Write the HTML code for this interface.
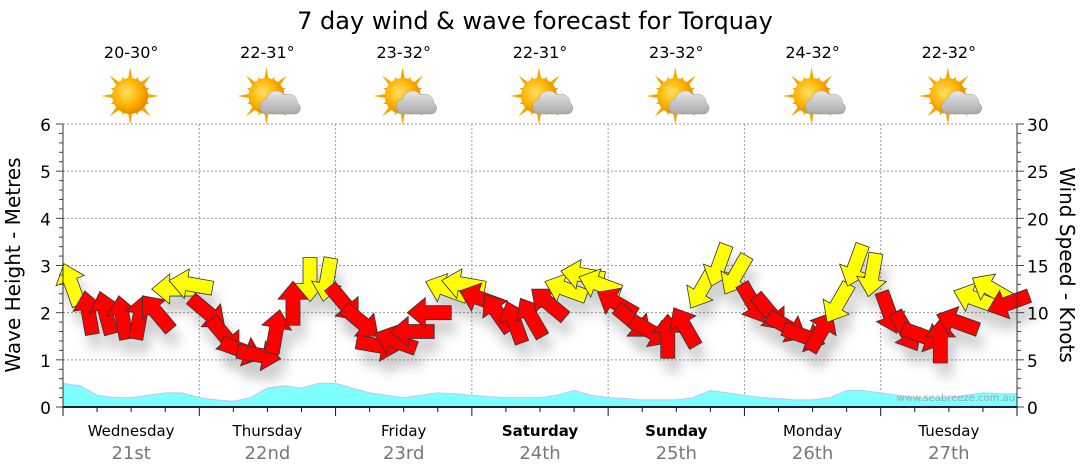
<!DOCTYPE html>
<html><head><meta charset="utf-8"><style>
body{margin:0;background:#fff;font-family:"DejaVu Sans","Liberation Sans",sans-serif;}
svg{display:block}
</style></head><body>
<svg id="c" width="1080" height="475" xmlns="http://www.w3.org/2000/svg">
<defs>
<filter id="sh" x="-50%" y="-50%" width="200%" height="200%"><feGaussianBlur stdDeviation="6"/></filter>
<radialGradient id="sun" cx="40%" cy="40%" r="60%"><stop offset="0" stop-color="#ffe066"/><stop offset="0.6" stop-color="#ffb400"/><stop offset="1" stop-color="#e88a00"/></radialGradient>
<linearGradient id="cloud" x1="0" y1="0" x2="0" y2="1"><stop offset="0" stop-color="#e8e8e8"/><stop offset="1" stop-color="#a8a8a8"/></linearGradient>
</defs>
<text x="535" y="29" font-size="24" text-anchor="middle" fill="#000">7 day wind &amp; wave forecast for Torquay</text>
<g id="grid"></g>
<g id="waves"></g>
<g id="shadows" opacity="0.3"></g>
<g id="arrows"></g>
<g id="axes"></g>
<g id="icons"></g>
<text transform="translate(20,265) rotate(-90)" font-size="20" text-anchor="middle">Wave Height - Metres</text>
<text transform="translate(1060,265) rotate(90)" font-size="20" text-anchor="middle">Wind Speed - Knots</text>
<text x="1015" y="401" font-size="10" text-anchor="end" fill="#9aa">www.seabreeze.com.au</text>
</svg>
<script>
const days=["Wednesday","Thursday","Friday","Saturday","Sunday","Monday","Tuesday"];
const dates=["21st","22nd","23rd","24th","25th","26th","27th"];
const boldDays=[false,false,false,true,true,false,false];
const temps=["20-30°","22-31°","23-32°","22-31°","23-32°","24-32°","22-32°"];
const cloudy=[false,true,true,true,true,true,true];
const waveTicks=[0,1,2,3,4,5,6];
const windTicks=[0,5,10,15,20,25,30];
const waveHeight=[0.5,0.45,0.25,0.2,0.2,0.25,0.3,0.3,0.2,0.15,0.12,0.2,0.4,0.45,0.4,0.5,0.5,0.4,0.3,0.25,0.2,0.25,0.3,0.28,0.25,0.22,0.2,0.2,0.2,0.25,0.35,0.25,0.2,0.18,0.15,0.15,0.15,0.2,0.35,0.3,0.25,0.2,0.18,0.15,0.15,0.2,0.35,0.35,0.3,0.25,0.2,0.2,0.2,0.25,0.3,0.28,0.28];
const windSpeed=[13,10,10,9.5,9.5,10,12.5,13, 10,7.5,6,5.5,8,11,13.5,13.5, 11,9,6.5,7,8,10,12.5,13, 11.5,10,9,9.5,11,12.5,14,13, 11,9,8,7.5,8.5,12.5,15,14, 11,10,8.5,7.5,8,11,15,14, 10,8,7.5,7,9,11.5,12.5,11];
const windDir=[250,260,255,260,280,230,180,190, 40,50,20,10,280,270,90,100, 50,40,10,200,180,180,200,190, 200,235,250,240,220,200,190,200, 210,40,30,270,240,120,110,120, 60,50,30,20,300,120,110,100, 70,60,20,270,200,200,210,160];
const windColor=["y","r","r","r","r","r","y","y", "r","r","r","r","r","r","y","y", "r","r","r","r","r","r","y","y", "r","r","r","r","r","y","y","y", "r","r","r","r","r","y","y","y", "r","r","r","r","r","y","y","y", "r","r","r","r","r","y","y","r"];

const NS="http://www.w3.org/2000/svg";
const X0=63,X1=1017,Y0=407,Y1=124;
const xH=h=>X0+(X1-X0)*h/168;
const yW=v=>Y0-(Y0-Y1)*v/6;
const yK=k=>Y0-(Y0-Y1)*k/30;
function mk(t,a,p){const e=document.createElementNS(NS,t);for(const k in a)e.setAttribute(k,a[k]);(p||document.getElementById('c')).appendChild(e);return e;}
const grid=document.getElementById('grid'),axes=document.getElementById('axes');
waveTicks.forEach(v=>{if(v>0){const l=mk('line',{x1:X0,x2:X1,y1:yW(v),y2:yW(v),stroke:'#999','stroke-dasharray':'2,2','stroke-width':1},grid);

}
const t=mk('text',{x:51,y:yW(v)+7,'font-size':17,'text-anchor':'end'},axes);t.textContent=v;

});
windTicks.forEach(k=>{const t=mk('text',{x:1027,y:yK(k)+7,'font-size':17},axes);t.textContent=k;

});
for(let i=0;i<=30;i++){const y=Y0-(Y0-Y1)*i/30;const w=i%5==0?7:4;
mk('line',{x1:X0-w,x2:X0,y1:y,y2:y,stroke:'#444'},axes);mk('line',{x1:X1,x2:X1+w,y1:y,y2:y,stroke:'#444'},axes);}
days.forEach((d,i)=>{const xs=xH(i*24),xm=xH(i*24+12);
if(i>0){const l=mk('line',{x1:xs,x2:xs,y1:Y1,y2:Y0,stroke:'#999','stroke-dasharray':'2,2'},grid);

}
const t=mk('text',{x:xm,y:436,'font-size':15,'text-anchor':'middle','font-weight':boldDays[i]?'bold':'normal'});t.textContent=d;


const t2=mk('text',{x:xm,y:459,'font-size':18,'text-anchor':'middle',fill:'#777'});t2.textContent=dates[i];


const t3=mk('text',{x:xm,y:58,'font-size':16,'text-anchor':'middle'});t3.textContent=temps[i];


const g=mk('g',{transform:`translate(${xm-1},96)`},document.getElementById('icons'));


for(let r=0;r<16;r++){const a=r*Math.PI/8,L=r%2?21:29;mk('polygon',{points:`${Math.cos(a)*L},${Math.sin(a)*L} ${Math.cos(a+0.17)*15},${Math.sin(a+0.17)*15} ${Math.cos(a-0.17)*15},${Math.sin(a-0.17)*15}`,fill:'#f2a800'},g);}
mk('circle',{cx:0,cy:0,r:18,fill:'url(#sun)'},g);
if(cloudy[i]){mk('path',{d:'M-2,18 a8,8 0 0 1 2,-15 a10,10 0 0 1 18,-4 a9,9 0 0 1 13,8 a6,6 0 0 1 -2,11 z',fill:'url(#cloud)',stroke:'#999','stroke-width':0.5},g);}
});
for(let h=0;h<=168;h+=6){const x=xH(h);mk('line',{x1:x,x2:x,y1:Y0,y2:Y0+(h%24==0?9:5),stroke:'#113'},axes);}
mk('line',{x1:X0,x2:X0,y1:Y1,y2:Y0,stroke:'#333'},axes);
mk('line',{x1:X1,x2:X1,y1:Y1,y2:Y0,stroke:'#333'},axes);
const base=mk('line',{x1:X0,x2:X1,y1:Y0,y2:Y0,stroke:'#124','stroke-width':2},axes);


let d=`M${X0},${Y0}`;waveHeight.forEach((v,i)=>{d+=` L${xH(i*3)},${yW(v)}`;});d+=` L${X1},${Y0} Z`;
const wa=mk('path',{d:d,fill:'#80ffff',stroke:'#b8c8ff','stroke-width':1},document.getElementById('waves'));


const AR='M-22,-7 L4,-7 L4,-15 L22,0 L4,15 L4,7 L-22,7 Z';
windSpeed.forEach((k,i)=>{const x=xH(i*3+1.5),y=yK(k),a=windDir[i];
mk('path',{d:AR,transform:`translate(${x+5},${y+14}) rotate(${a})`,fill:'#555',filter:'url(#sh)'},document.getElementById('shadows'));
const p=mk('path',{d:AR,transform:`translate(${x},${y}) rotate(${a})`,fill:windColor[i]=='y'?'#ffff00':'#ff0000',stroke:'#333','stroke-width':0.8},document.getElementById('arrows'));

});
</script>
</body></html>
